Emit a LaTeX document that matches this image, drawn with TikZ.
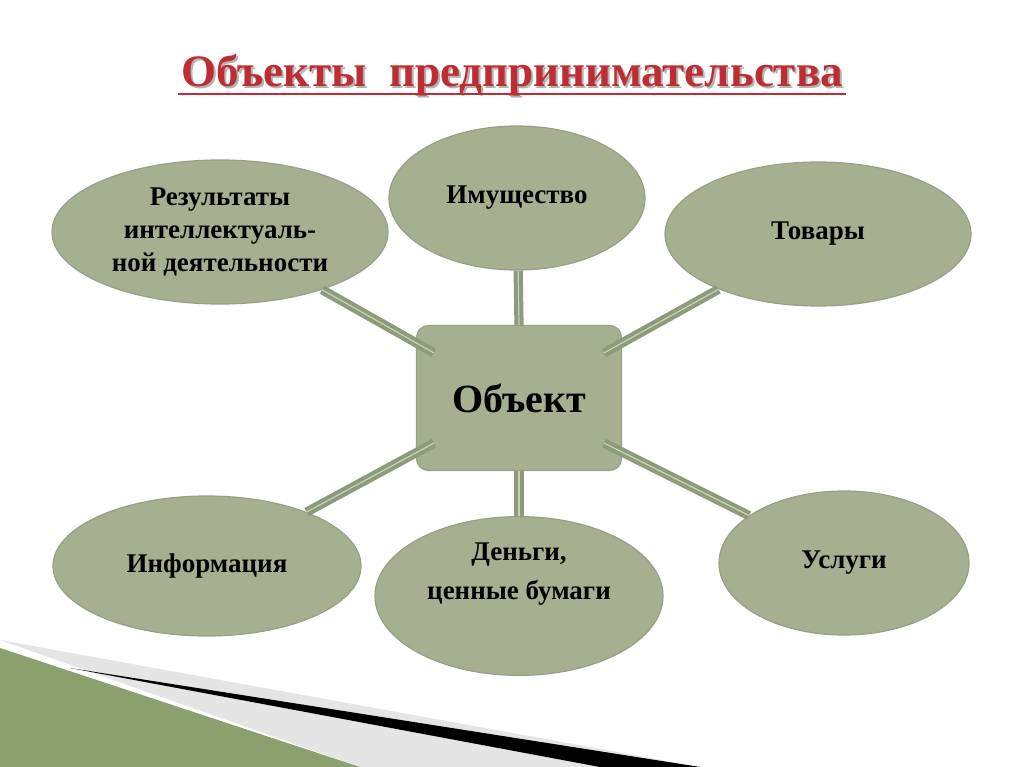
\documentclass[tikz,border=0pt]{standalone}
\usepackage{fontspec}
\setmainfont{Liberation Serif}
\usetikzlibrary{shapes.geometric}
\definecolor{fillg}{RGB}{165,176,145}
\definecolor{edgeg}{RGB}{150,160,135}
\definecolor{linkg}{RGB}{140,155,120}
\definecolor{titler}{RGB}{190,45,50}
\definecolor{decog}{RGB}{140,160,110}
\tikzset{
 oval/.style={ellipse, draw=edgeg, line width=1.2pt, fill=fillg, minimum width=#1, align=center, font=\fontsize{27}{33}\selectfont\bfseries},
 link/.style={draw=linkg, line width=4pt, double=fillg!60, double distance=1.2pt}
}
\begin{document}
\begin{tikzpicture}[x=1pt,y=-1pt]
\useasboundingbox (0,0) rectangle (1024,767);
\fill[white] (0,0) rectangle (1024,767);
% bottom-left decoration
\fill[gray!20] (0,640) -- (700,767) -- (360,767) -- cycle;
\fill[decog] (0,648) -- (360,767) -- (0,767) -- cycle;
\fill[black] (70,668) -- (700,767) -- (600,767) -- cycle;
% title
\node[text=gray!60, font=\fontsize{45}{50}\selectfont\bfseries] at (514,77) {Объекты\ \ предпринимательства};
\node (title) [text=titler, font=\fontsize{45}{50}\selectfont\bfseries] at (512,75) {Объекты\ \ предпринимательства};
\draw[titler, line width=1.5pt] (178,94) -- (846,94);
% nodes
\node[draw=edgeg, line width=1.2pt, fill=fillg, rounded corners=12pt, minimum width=205pt, minimum height=145pt, font=\fontsize{40}{44}\selectfont\bfseries] (c) at (519,398) {Объект};
\node[oval=336pt, minimum height=144pt] (r) at (220,232) {Результаты\\интеллектуаль-\\ной деятельности};
\node[oval=256pt, minimum height=144pt] (i) at (517,198) {Имущество};
\node[oval=306pt, minimum height=144pt] (t) at (818,234) {Товары};
\node[oval=308pt, minimum height=140pt] (inf) at (207,566) {Информация};
\node[oval=288pt, minimum height=144pt] (d) at (519,596) {Деньги,\\[6pt]ценные бумаги\\[6pt]\strut};
\node[oval=250pt, minimum height=144pt] (u) at (844,563) {Услуги};
% links
\draw[link] (c.north west) ++(18,28) -- (r);
\draw[link] (c.north) -- (i);
\draw[link] (c.north east) ++(-18,28) -- (t);
\draw[link] (c.south west) ++(18,-28) -- (inf);
\draw[link] (c.south) -- (d);
\draw[link] (c.south east) ++(-18,-28) -- (u);
\end{tikzpicture}
\end{document}
